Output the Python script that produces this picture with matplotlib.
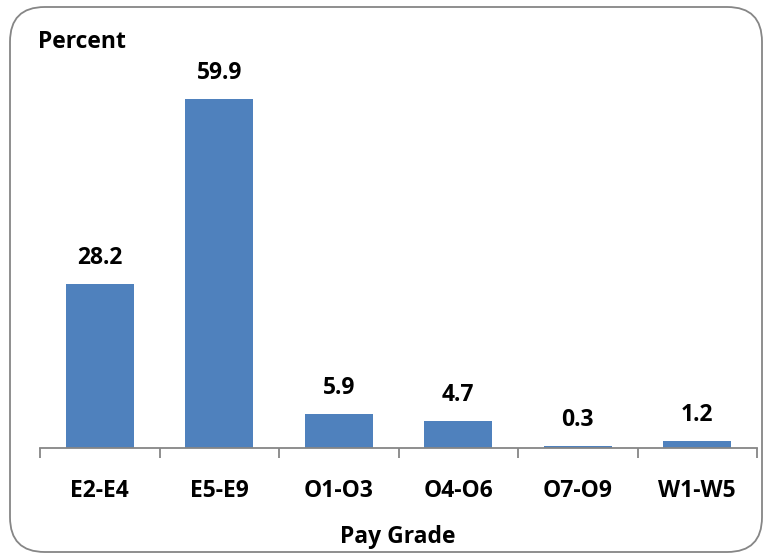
import matplotlib
matplotlib.use("Agg")
import matplotlib.pyplot as plt
from matplotlib.patches import FancyBboxPatch

categories = ["E2-E4", "E5-E9", "O1-O3", "O4-O6", "O7-O9", "W1-W5"]
values = [28.2, 59.9, 5.9, 4.7, 0.3, 1.2]

W, H = 772, 557
plt.rcParams["font.family"] = ["Open Sans", "DejaVu Sans"]
fig = plt.figure(figsize=(W / 100, H / 100), dpi=100)

# chart frame with rounded corners
frame = FancyBboxPatch((10 / W, 5 / H), 752 / W, 545 / H,
                       boxstyle="round,pad=0,rounding_size=0.045",
                       transform=fig.transFigure, facecolor="white",
                       edgecolor="#868686", linewidth=1.3,
                       mutation_aspect=W / H, zorder=-5)
fig.patches.append(frame)

ax = fig.add_axes([40 / W, (H - 448) / H, 717 / W, 408 / H])
ax.set_facecolor("none")
ax.set_zorder(2)
x = range(len(categories))
ax.bar(x, values, width=0.57, color="#4F81BD", zorder=2)
ax.set_xlim(-0.5, len(categories) - 0.5)
ax.set_ylim(0, 70)

FS = 16.5
for xi, v in zip(x, values):
    ax.annotate(f"{v:.1f}", (xi, v), xytext=(0, 10), textcoords="offset points",
                ha="center", va="bottom", fontsize=FS, fontweight="bold")

for s in ["top", "right", "left"]:
    ax.spines[s].set_visible(False)
ax.spines["bottom"].set_color("#868686")
ax.spines["bottom"].set_linewidth(1.3)
ax.set_yticks([])
ax.set_xticks([i - 0.5 for i in range(len(categories) + 1)], minor=False)
ax.set_xticklabels([])
ax.tick_params(axis="x", length=7, width=1.3, color="#868686", direction="out")
ax.set_xticks(list(x), minor=True)
ax.set_xticklabels(categories, minor=True, fontsize=FS, fontweight="bold")
ax.tick_params(axis="x", which="minor", length=0, pad=22)

fig.text(38 / W, 1 - 42 / H, "Percent", fontsize=FS, fontweight="bold",
         ha="left", va="center")
fig.text(398 / W, 1 - 537 / H, "Pay Grade", fontsize=FS, fontweight="bold",
         ha="center", va="center")

fig.savefig("out.png", dpi=100)
